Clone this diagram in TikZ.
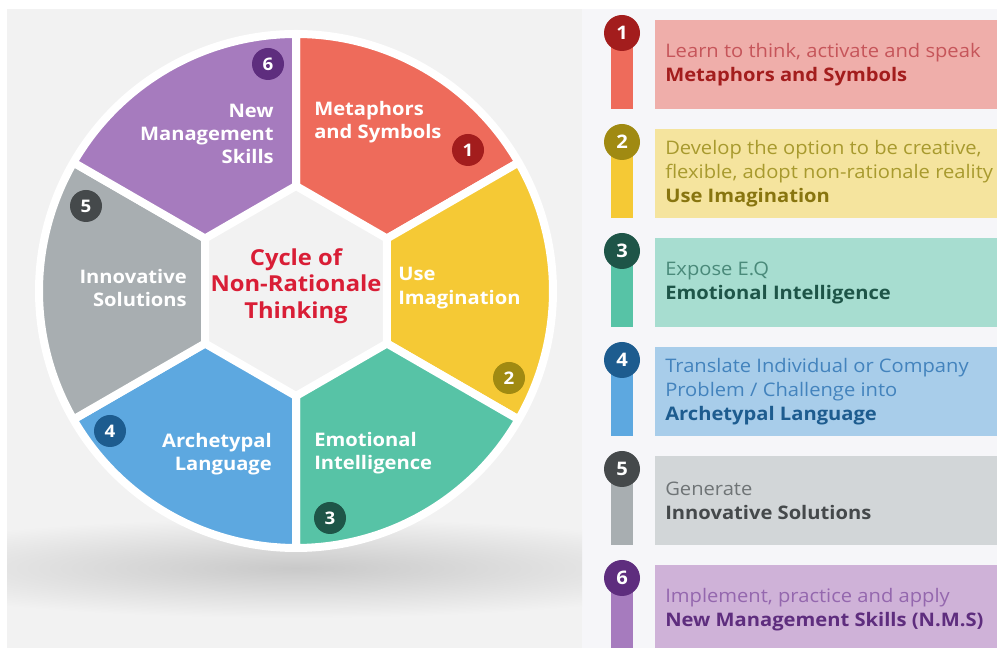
\documentclass[tikz,border=0pt]{standalone}
\usepackage{fontspec}
\setmainfont{Open Sans}[FakeStretch=1.08]

\definecolor{bgl}{HTML}{F2F2F2}
\definecolor{bgr}{HTML}{F6F6F9}
\definecolor{shadowc}{HTML}{C9C9C9}
\definecolor{titlered}{HTML}{D91E36}
\definecolor{secred}{HTML}{EE6B5B}
\definecolor{secyellow}{HTML}{F5C935}
\definecolor{secteal}{HTML}{57C3A6}
\definecolor{secblue}{HTML}{5DA8E0}
\definecolor{secgray}{HTML}{A8AEB1}
\definecolor{secpurple}{HTML}{A67BBE}
\definecolor{dotred}{HTML}{A31D1D}
\definecolor{dotyellow}{HTML}{A08A12}
\definecolor{dotteal}{HTML}{1E5548}
\definecolor{dotblue}{HTML}{1D5C8F}
\definecolor{dotgray}{HTML}{45494B}
\definecolor{dotpurple}{HTML}{5E2D7E}
\definecolor{boxred}{HTML}{EFAEAA}
\definecolor{boxyellow}{HTML}{F5E49E}
\definecolor{boxteal}{HTML}{A7DDD0}
\definecolor{boxblue}{HTML}{A8CDEA}
\definecolor{boxgray}{HTML}{D2D6D8}
\definecolor{boxpurple}{HTML}{CFB2D8}
\definecolor{txtred}{HTML}{C6555A}
\definecolor{txtyellow}{HTML}{A89A2E}
\definecolor{txtteal}{HTML}{4A8A7A}
\definecolor{txtblue}{HTML}{4383BD}
\definecolor{txtgray}{HTML}{6F7476}
\definecolor{txtpurple}{HTML}{9467AE}

\tikzset{
  sector/.style={draw=white, line width=6pt, line join=round},
  numdot/.style={circle, minimum size=24pt, inner sep=0pt, text=white,
    font=\bfseries\fontsize{13}{13}\selectfont},
  tagdot/.style={circle, minimum size=27pt, inner sep=0pt, text=white,
    font=\bfseries\fontsize{14}{14}\selectfont},
  seclabel/.style={text=white, inner sep=0pt,
    font=\bfseries\fontsize{14}{17.5}\selectfont},
  rowtext/.style={anchor=west, align=left, inner sep=0pt,
    font=\fontsize{14}{18}\selectfont}
}

\begin{document}
\begin{tikzpicture}[x=0.75pt,y=0.75pt]
\useasboundingbox (0,0) rectangle (997,648);
\path[fill=white] (0,0) rectangle (997,648);
\path[fill=bgl] (7,0) rectangle (582,639);
\path[fill=bgr] (582,0) rectangle (997,639);

\begin{scope}
\clip (7,0) rectangle (582,639);
\shade[inner color=shadowc, outer color=bgl] (296,80) ellipse [x radius=450, y radius=50];
\end{scope}

\coordinate (c) at (296,357);
\path[sector, fill=secred] ([shift={(30:105)}]c) -- ([shift={(30:257)}]c)
  arc[start angle=30, end angle=90, radius=257] -- ([shift={(90:105)}]c) -- cycle;
\path[sector, fill=secyellow] ([shift={(-30:105)}]c) -- ([shift={(-30:257)}]c)
  arc[start angle=-30, end angle=30, radius=257] -- ([shift={(30:105)}]c) -- cycle;
\path[sector, fill=secteal] ([shift={(-90:105)}]c) -- ([shift={(-90:257)}]c)
  arc[start angle=-90, end angle=-30, radius=257] -- ([shift={(-30:105)}]c) -- cycle;
\path[sector, fill=secblue] ([shift={(-150:105)}]c) -- ([shift={(-150:257)}]c)
  arc[start angle=-150, end angle=-90, radius=257] -- ([shift={(-90:105)}]c) -- cycle;
\path[sector, fill=secgray] ([shift={(150:105)}]c) -- ([shift={(150:257)}]c)
  arc[start angle=150, end angle=210, radius=257] -- ([shift={(210:105)}]c) -- cycle;
\path[sector, fill=secpurple] ([shift={(90:105)}]c) -- ([shift={(90:257)}]c)
  arc[start angle=90, end angle=150, radius=257] -- ([shift={(150:105)}]c) -- cycle;

\node[font=\bfseries\fontsize{16.5}{20}\selectfont, text=titlered, align=center]
  (title) at (296,362) {Cycle of\\Non-Rationale\\Thinking};

\node[seclabel, anchor=west, align=left] (metaphors) at (314,526) {Metaphors\\and Symbols};
\node[seclabel, anchor=west, align=left] (imagination) at (398,360) {Use\\Imagination};
\node[seclabel, anchor=west, align=left] (emotional) at (314,195) {Emotional\\Intelligence};
\node[seclabel, anchor=east, align=right] (archetypal) at (272,194) {Archetypal\\Language};
\node[seclabel, anchor=east, align=right] (innovative) at (187,360) {Innovative\\Solutions};
\node[seclabel, anchor=east, align=right] (management) at (274,514) {New\\Management\\Skills};

\node[numdot, fill=dotred] (dot1) at (468,498) {1};
\node[numdot, fill=dotyellow] (dot2) at (509,270) {2};
\node[numdot, fill=dotteal] (dot3) at (330,130) {3};
\node[numdot, fill=dotblue] (dot4) at (110,217) {4};
\node[numdot, fill=dotgray] (dot5) at (86,442) {5};
\node[numdot, fill=dotpurple] (dot6) at (268,584) {6};

\path[fill=boxred] (655,539) rectangle (997,628);
\path[fill=secred] (611,539) rectangle (633,615);
\node[tagdot, fill=dotred] (tag1) at (622,615) {1};
\node[rowtext, text=txtred] (row1) at (665,583.5)
  {Learn to think, activate and speak\\\textbf{\color{dotred}Metaphors and Symbols}};

\path[fill=boxyellow] (655,430) rectangle (997,519);
\path[fill=secyellow] (611,430) rectangle (633,506);
\node[tagdot, fill=dotyellow] (tag2) at (622,506) {2};
\node[rowtext, text=txtyellow] (row2) at (665,474.5)
  {Develop the option to be creative,\\flexible, adopt non-rationale reality\\\textbf{\color{dotyellow!85!black}Use Imagination}};

\path[fill=boxteal] (655,321) rectangle (997,410);
\path[fill=secteal] (611,321) rectangle (633,397);
\node[tagdot, fill=dotteal] (tag3) at (622,397) {3};
\node[rowtext, text=txtteal] (row3) at (665,365.5)
  {Expose E.Q\\\textbf{\color{dotteal}Emotional Intelligence}};

\path[fill=boxblue] (655,212) rectangle (997,301);
\path[fill=secblue] (611,212) rectangle (633,288);
\node[tagdot, fill=dotblue] (tag4) at (622,288) {4};
\node[rowtext, text=txtblue] (row4) at (665,256.5)
  {Translate Individual or Company\\Problem / Challenge into\\\textbf{\color{dotblue}Archetypal Language}};

\path[fill=boxgray] (655,103) rectangle (997,192);
\path[fill=secgray] (611,103) rectangle (633,179);
\node[tagdot, fill=dotgray] (tag5) at (622,179) {5};
\node[rowtext, text=txtgray] (row5) at (665,147.5)
  {Generate\\\textbf{\color{dotgray}Innovative Solutions}};

\path[fill=boxpurple] (655,0) rectangle (997,83);
\path[fill=secpurple] (611,0) rectangle (633,70);
\node[tagdot, fill=dotpurple] (tag6) at (622,70) {6};
\node[rowtext, text=txtpurple] (row6) at (665,38.5)
  {Implement, practice and apply\\\textbf{\color{dotpurple}New Management Skills (N.M.S)}};
\end{tikzpicture}
\end{document}
